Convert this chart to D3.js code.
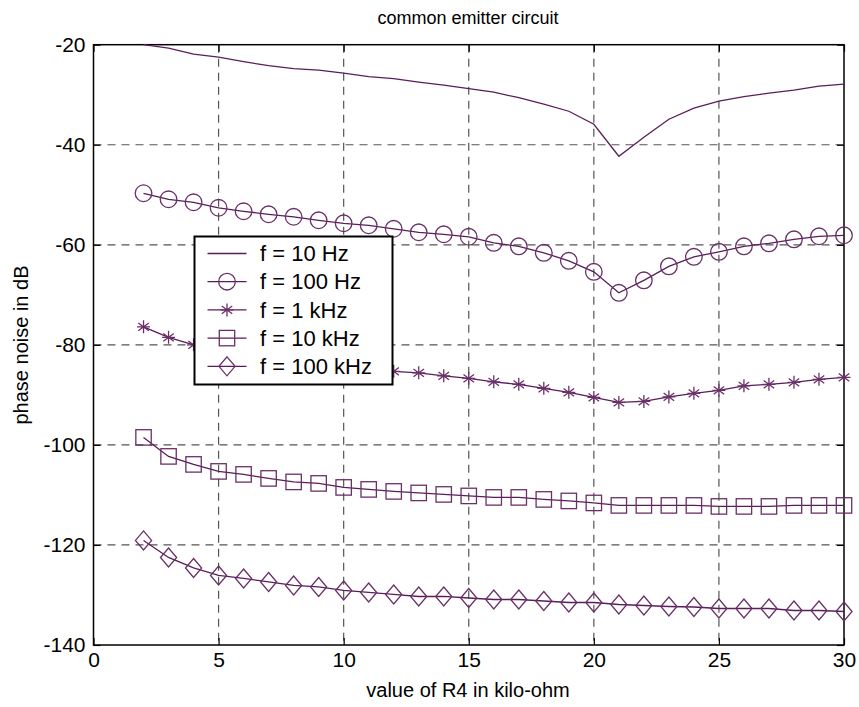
<!DOCTYPE html>
<html>
<head>
<meta charset="utf-8">
<script src="https://cdn.jsdelivr.net/npm/d3@7"></script>
<style>
  html, body { margin: 0; padding: 0; background: #fff; }
  svg { display: block; font-family: "Liberation Sans", Arial, sans-serif; }
</style>
</head>
<body>
<svg id="chart" width="859" height="707"></svg>
<script>
// R4 values in kilo-ohm
const r4 = [2,3,4,5,6,7,8,9,10,11,12,13,14,15,16,17,18,19,20,21,22,23,24,25,26,27,28,29,30];

// Phase noise (dB) for each offset frequency
const noise10Hz = [-20.0,-20.7,-21.9,-22.5,-23.4,-24.2,-24.8,-25.1,-25.7,-26.4,-26.8,-27.5,-28.1,-28.8,-29.5,-30.6,-31.9,-33.3,-35.9,-42.3,-38.5,-34.9,-32.7,-31.3,-30.4,-29.7,-29.1,-28.3,-27.9];
const noise100Hz = [-49.7,-50.9,-51.5,-52.6,-53.3,-53.9,-54.4,-55.1,-55.7,-56.1,-56.8,-57.5,-57.9,-58.4,-59.6,-60.3,-61.6,-63.2,-65.4,-69.6,-67.1,-64.3,-62.4,-61.4,-60.3,-59.7,-58.9,-58.3,-58.1];
const noise1kHz = [-76.4,-78.5,-80.0,-80.8,-81.5,-82.2,-82.9,-83.5,-84.1,-84.7,-85.3,-85.6,-86.2,-86.7,-87.4,-87.9,-88.7,-89.5,-90.5,-91.5,-91.3,-90.4,-89.7,-89.1,-88.2,-87.9,-87.5,-86.9,-86.5];
const noise10kHz = [-98.5,-102.3,-103.9,-105.3,-105.9,-106.7,-107.4,-107.7,-108.5,-108.9,-109.3,-109.6,-109.9,-110.2,-110.5,-110.5,-110.9,-111.2,-111.6,-112.1,-112.1,-112.1,-112.1,-112.3,-112.3,-112.3,-112.1,-112.1,-112.1];
const noise100kHz = [-119.1,-122.5,-124.6,-126.1,-126.7,-127.4,-128.1,-128.4,-129.1,-129.5,-129.9,-130.3,-130.3,-130.6,-130.9,-130.9,-131.2,-131.5,-131.5,-131.9,-132.1,-132.3,-132.4,-132.7,-132.7,-132.7,-133.1,-133.1,-133.3];

const seriesLabels = ["f = 10 Hz", "f = 100 Hz", "f = 1 kHz", "f = 10 kHz", "f = 100 kHz"];
const seriesMarkers = ["none", "circle", "star", "square", "diamond"];
const seriesValues = [noise10Hz, noise100Hz, noise1kHz, noise10kHz, noise100kHz];

const xTicks = [0,5,10,15,20,25,30];
const yTicks = [-140,-120,-100,-80,-60,-40,-20];

const titleText = "common emitter circuit";
const xLabelText = "value of R4 in kilo-ohm";
const yLabelText = "phase noise in dB";

const lineColor = "#5a1d5a";
const markerColor = "#6a3068";

const svg = d3.select("#chart");
const plot = { left: 93.5, right: 844, top: 44.7, bottom: 645 };

const x = d3.scaleLinear().domain([0, 30]).range([plot.left, plot.right]);
const y = d3.scaleLinear().domain([-140, -20]).range([plot.bottom, plot.top]);

// Dashed grid
const grid = svg.append("g").attr("stroke", "#555").attr("stroke-width", 1.2)
  .attr("stroke-dasharray", "8,6");
grid.selectAll("line.gx").data(xTicks.filter(t => t > 0 && t < 30)).join("line")
  .attr("x1", d => x(d)).attr("x2", d => x(d))
  .attr("y1", plot.top).attr("y2", plot.bottom);
grid.selectAll("line.gy").data(yTicks.filter(t => t > -140 && t < -20)).join("line")
  .attr("x1", plot.left).attr("x2", plot.right)
  .attr("y1", d => y(d)).attr("y2", d => y(d));

// Axes with inward ticks on all four sides; plain hyphen for negatives
const tickLen = 7;
const fontSize = 21;
const fmt = d => String(d);
const axB = svg.append("g").attr("transform", `translate(0,${plot.bottom})`)
  .call(d3.axisBottom(x).tickValues(xTicks).tickFormat(fmt).tickSize(-tickLen).tickPadding(6).tickSizeOuter(0));
const axT = svg.append("g").attr("transform", `translate(0,${plot.top})`)
  .call(d3.axisTop(x).tickValues(xTicks).tickSize(-tickLen).tickFormat("").tickSizeOuter(0));
const axL = svg.append("g").attr("transform", `translate(${plot.left},0)`)
  .call(d3.axisLeft(y).tickValues(yTicks).tickFormat(fmt).tickSize(-tickLen).tickPadding(8).tickSizeOuter(0));
const axR = svg.append("g").attr("transform", `translate(${plot.right},0)`)
  .call(d3.axisRight(y).tickValues(yTicks).tickSize(-tickLen).tickFormat("").tickSizeOuter(0));
[axB, axT, axL, axR].forEach(a => {
  a.select(".domain").remove();
  a.selectAll("line").attr("stroke", "#000").attr("stroke-width", 1.2);
  a.selectAll("text").attr("fill", "#000").attr("font-size", fontSize)
    .attr("font-family", "'Liberation Sans', Arial, sans-serif");
});
axB.selectAll("text").attr("dy", "0.75em");

// Plot frame
svg.append("rect")
  .attr("x", plot.left).attr("y", plot.top)
  .attr("width", plot.right - plot.left).attr("height", plot.bottom - plot.top)
  .attr("fill", "none").attr("stroke", "#000").attr("stroke-width", 1.5);

// Marker drawing
function drawMarker(g, type, cx, cy) {
  if (type === "circle") {
    g.append("circle").attr("cx", cx).attr("cy", cy).attr("r", 8.3)
      .attr("fill", "none").attr("stroke", markerColor).attr("stroke-width", 1.3);
  } else if (type === "square") {
    g.append("rect").attr("x", cx - 7.7).attr("y", cy - 7.7).attr("width", 15.4).attr("height", 15.4)
      .attr("fill", "none").attr("stroke", markerColor).attr("stroke-width", 1.3);
  } else if (type === "diamond") {
    const s = 9.5;
    g.append("path").attr("d", `M${cx},${cy - s}L${cx + s * 0.85},${cy}L${cx},${cy + s}L${cx - s * 0.85},${cy}Z`)
      .attr("fill", "none").attr("stroke", markerColor).attr("stroke-width", 1.3);
  } else if (type === "star") {
    const r = 6.5, dx = r * Math.cos(Math.PI / 5), dy = r * Math.sin(Math.PI / 5);
    g.append("path").attr("d",
      `M${cx},${cy - r}L${cx},${cy + r}M${cx - dx},${cy - dy}L${cx + dx},${cy + dy}M${cx - dx},${cy + dy}L${cx + dx},${cy - dy}M${cx - r},${cy}L${cx + r},${cy}`)
      .attr("fill", "none").attr("stroke", markerColor).attr("stroke-width", 1.3);
  }
}

// Series
const line = d3.line().x(d => x(d[0])).y(d => y(d[1]));
seriesValues.forEach((vals, i) => {
  const pts = r4.map((r, j) => [r, vals[j]]);
  const g = svg.append("g");
  g.append("path").attr("d", line(pts)).attr("fill", "none")
    .attr("stroke", lineColor).attr("stroke-width", 1.3);
  if (seriesMarkers[i] !== "none") {
    pts.forEach(p => drawMarker(g, seriesMarkers[i], x(p[0]), y(p[1])));
  }
});

// Legend
const lg = svg.append("g");
const lgBox = { x: 194.5, y: 236.5, w: 198, h: 148 };
lg.append("rect").attr("x", lgBox.x).attr("y", lgBox.y).attr("width", lgBox.w).attr("height", lgBox.h)
  .attr("fill", "#fff").attr("stroke", "#000").attr("stroke-width", 2);
seriesLabels.forEach((lab, i) => {
  const ly = 253.5 + i * 28.2;
  lg.append("line").attr("x1", 207.5).attr("x2", 246.5).attr("y1", ly).attr("y2", ly)
    .attr("stroke", lineColor).attr("stroke-width", 1.3);
  if (seriesMarkers[i] !== "none") drawMarker(lg, seriesMarkers[i], 227, ly);
  lg.append("text").attr("x", 260).attr("y", ly).attr("dy", "0.35em")
    .attr("font-size", 22).attr("fill", "#000").text(lab);
});

// Title and axis labels
svg.append("text").attr("x", 468).attr("y", 18).attr("dy", "0.35em").attr("text-anchor", "middle")
  .attr("font-size", 18).attr("fill", "#000").text(titleText);
svg.append("text").attr("x", 468).attr("y", 690).attr("dy", "0.35em").attr("text-anchor", "middle")
  .attr("font-size", 20).attr("fill", "#000").text(xLabelText);
svg.append("text").attr("transform", "translate(21,345) rotate(-90)").attr("dy", "0.35em")
  .attr("text-anchor", "middle").attr("font-size", 20).attr("fill", "#000").text(yLabelText);
</script>
</body>
</html>
